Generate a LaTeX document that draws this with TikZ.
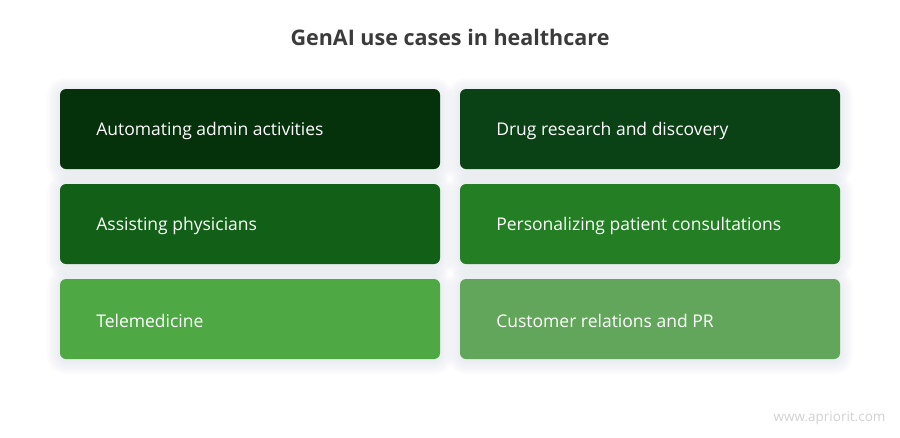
\documentclass[tikz,border=0pt]{standalone}
\usepackage{fontspec}
\setmainfont{Open Sans}
\definecolor{cA}{HTML}{05310B}
\definecolor{cB}{HTML}{0A4215}
\definecolor{cC}{HTML}{126017}
\definecolor{cD}{HTML}{237E24}
\definecolor{cE}{HTML}{4EA945}
\definecolor{cF}{HTML}{62A65B}
\definecolor{titlegray}{HTML}{3B3B3B}
\definecolor{wm}{HTML}{D2D2D2}
\definecolor{shade}{HTML}{8890A8}
\tikzset{
  card/.style={rounded corners=6pt, minimum width=380pt, minimum height=80pt,
    inner sep=0pt, draw=none},
  cardtext/.style={anchor=west, text=white, font=\fontsize{17.5}{20}\selectfont},
  softshadow/.style={fill=shade, fill opacity=0.018, draw=none}
}
\newcommand{\cardshadow}[1]{%
  \foreach \r in {1,3,...,13} {
    \pgfmathsetmacro{\rc}{6+\r}
    \fill[softshadow, rounded corners=\rc pt] ([xshift=-\r pt, yshift=\r pt-2pt]#1.north west) rectangle ([xshift=\r pt, yshift=-\r pt-2pt]#1.south east);
  }%
}
\begin{document}
\begin{tikzpicture}[x=1pt,y=-1pt]
\useasboundingbox[fill=white] (0,0) rectangle (900,437);
\node[font=\fontsize{21.5}{24}\selectfont\bfseries, text=titlegray] (title) at (450,37) {GenAI use cases in healthcare};
\coordinate (p1) at (250,129);
\coordinate (p2) at (650,129);
\coordinate (p3) at (250,224);
\coordinate (p4) at (650,224);
\coordinate (p5) at (250,319);
\coordinate (p6) at (650,319);
\foreach \i in {1,...,6} {
  \node[card, fill=none] (s\i) at (p\i) {};
  \cardshadow{s\i}
}
\node[card, fill=cA] (b1) at (p1) {};
\node[card, fill=cB] (b2) at (p2) {};
\node[card, fill=cC] (b3) at (p3) {};
\node[card, fill=cD] (b4) at (p4) {};
\node[card, fill=cE] (b5) at (p5) {};
\node[card, fill=cF] (b6) at (p6) {};
\node[cardtext] (t1) at ([xshift=33pt,yshift=-2pt]b1.west) {Automating admin activities};
\node[cardtext] (t2) at ([xshift=33pt,yshift=-2pt]b2.west) {Drug research and discovery};
\node[cardtext] (t3) at ([xshift=33pt,yshift=-2pt]b3.west) {Assisting physicians};
\node[cardtext] (t4) at ([xshift=33pt,yshift=-2pt]b4.west) {Personalizing patient consultations};
\node[cardtext] (t5) at ([xshift=33pt,yshift=-2pt]b5.west) {Telemedicine};
\node[cardtext] (t6) at ([xshift=33pt,yshift=-2pt]b6.west) {Customer relations and PR};
\node[anchor=east, text=wm, font=\fontsize{13.5}{15}\selectfont] (wmk) at (889,418) {www.apriorit.com};
\end{tikzpicture}
\end{document}
